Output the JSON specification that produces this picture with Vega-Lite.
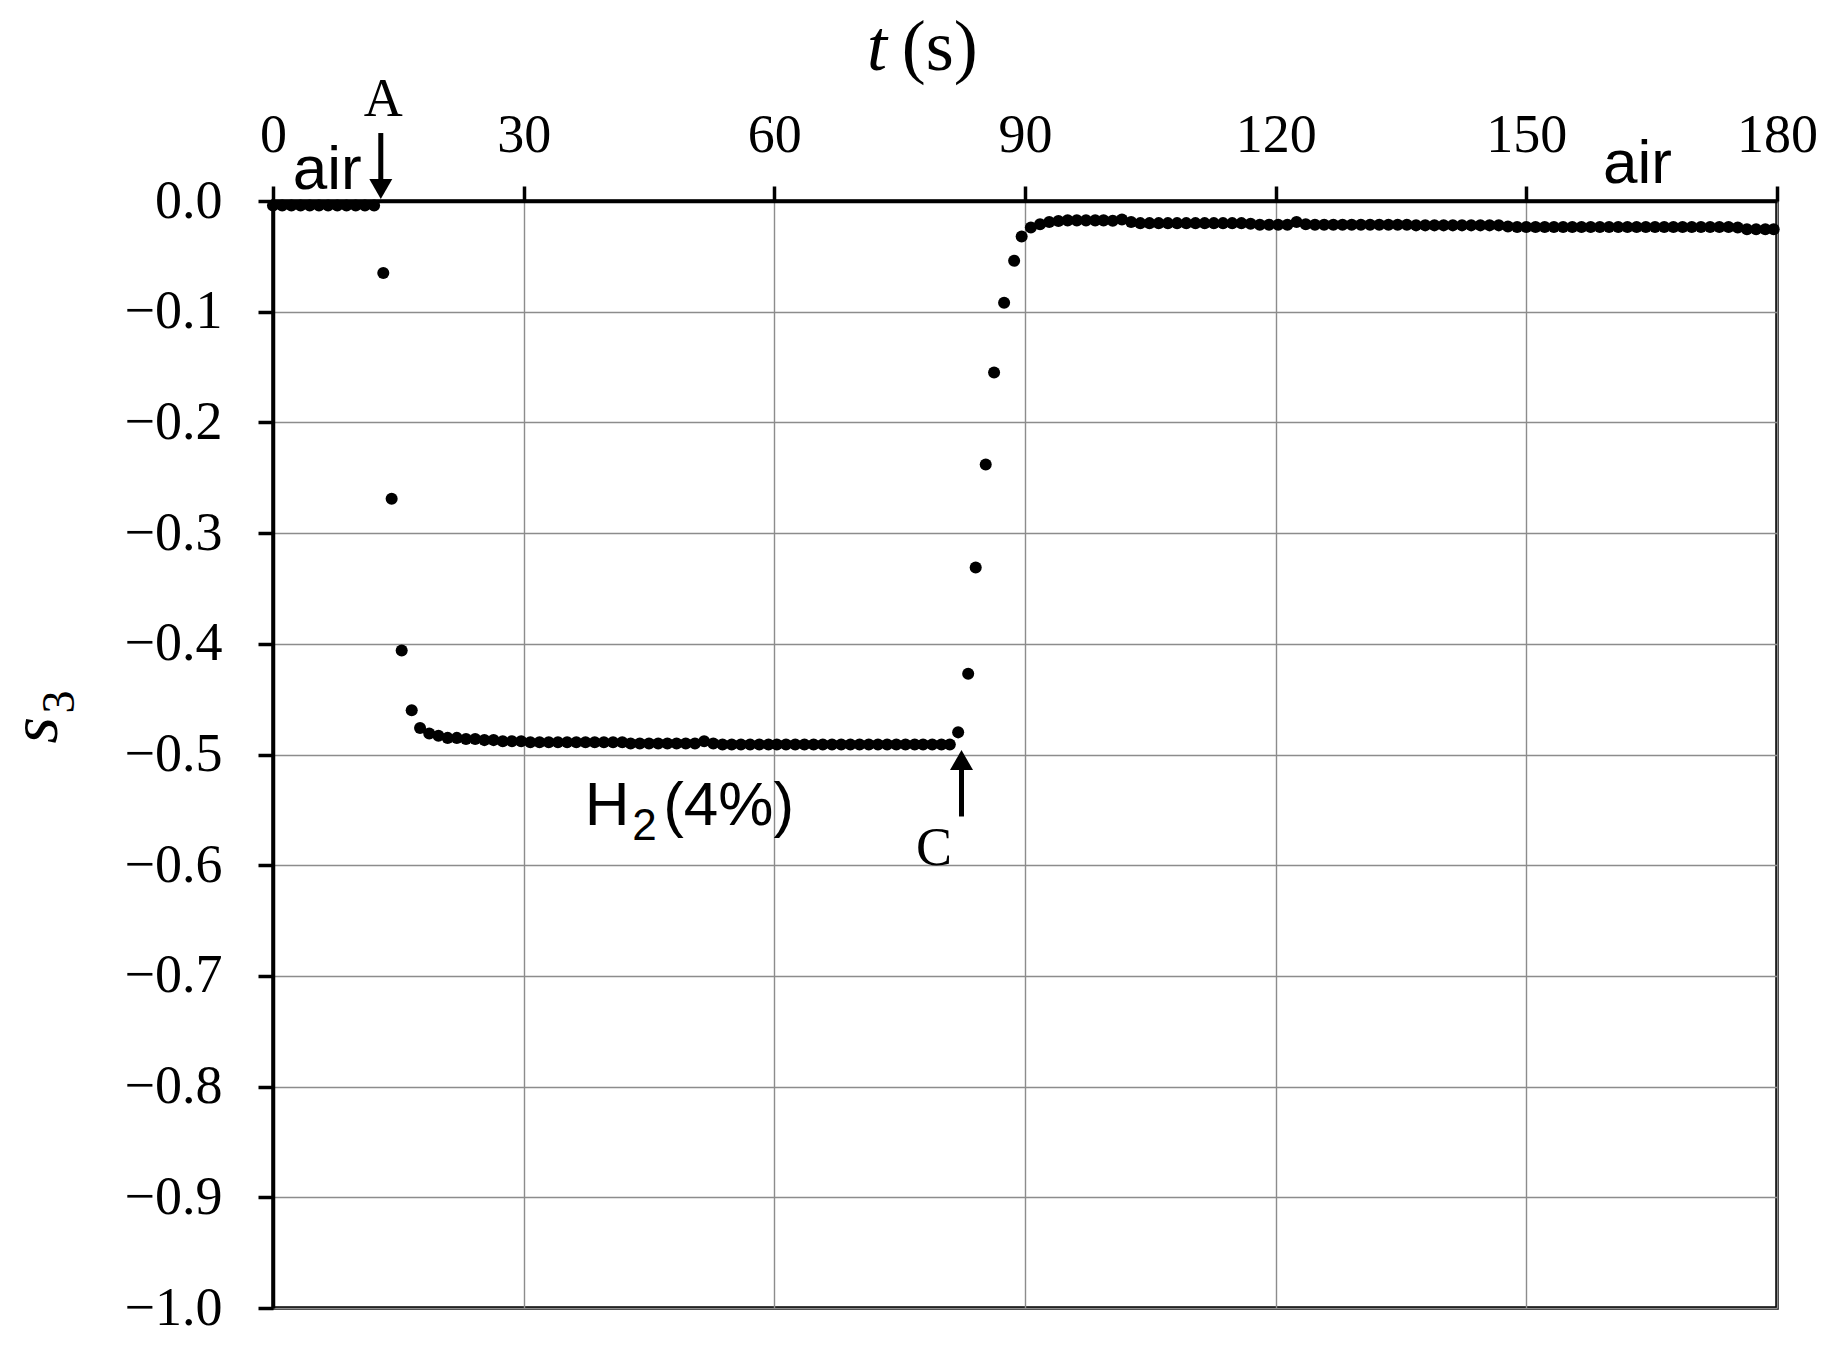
{
  "$schema": "https://vega.github.io/schema/vega-lite/v6.json",
  "width": 1504,
  "height": 1107,
  "autosize": {"type": "none"},
  "padding": {"left": 273, "top": 201, "right": 60, "bottom": 45},
  "background": "white",
  "config": {
    "view": {"stroke": "black", "strokeWidth": 3.5},
    "axis": {
      "domainColor": "black", "domainWidth": 3.5,
      "tickColor": "black", "tickWidth": 3.5, "tickSize": 15,
      "gridColor": "#8c8c8c", "gridWidth": 1.4,
      "labelFont": "Liberation Serif", "labelFontSize": 54, "labelColor": "black",
      "title": null
    }
  },
  "datasets": {
    "points": [
      {"t": 0.0, "s": -0.004}, {"t": 1.1, "s": -0.004}, {"t": 2.2, "s": -0.004}, {"t": 3.3, "s": -0.004},
      {"t": 4.4, "s": -0.004}, {"t": 5.5, "s": -0.004}, {"t": 6.6, "s": -0.004}, {"t": 7.7, "s": -0.004},
      {"t": 8.8, "s": -0.004}, {"t": 9.9, "s": -0.004}, {"t": 11.0, "s": -0.004}, {"t": 12.1, "s": -0.004},
      {"t": 13.2, "s": -0.065}, {"t": 14.2, "s": -0.269}, {"t": 15.4, "s": -0.406}, {"t": 16.6, "s": -0.46},
      {"t": 17.6, "s": -0.476}, {"t": 18.7, "s": -0.481}, {"t": 19.8, "s": -0.483}, {"t": 20.9, "s": -0.485},
      {"t": 22.0, "s": -0.485}, {"t": 23.1, "s": -0.486}, {"t": 24.2, "s": -0.486}, {"t": 25.3, "s": -0.487},
      {"t": 26.4, "s": -0.487}, {"t": 27.5, "s": -0.488}, {"t": 28.6, "s": -0.488}, {"t": 29.7, "s": -0.488},
      {"t": 30.8, "s": -0.489}, {"t": 31.9, "s": -0.489}, {"t": 33.0, "s": -0.489}, {"t": 34.1, "s": -0.489},
      {"t": 35.2, "s": -0.489}, {"t": 36.3, "s": -0.489}, {"t": 37.4, "s": -0.489}, {"t": 38.5, "s": -0.489},
      {"t": 39.6, "s": -0.489}, {"t": 40.7, "s": -0.489}, {"t": 41.8, "s": -0.489}, {"t": 42.8, "s": -0.49},
      {"t": 43.9, "s": -0.49}, {"t": 45.0, "s": -0.49}, {"t": 46.1, "s": -0.49}, {"t": 47.2, "s": -0.49},
      {"t": 48.3, "s": -0.49}, {"t": 49.4, "s": -0.49}, {"t": 50.5, "s": -0.49}, {"t": 51.6, "s": -0.488},
      {"t": 52.7, "s": -0.49}, {"t": 53.8, "s": -0.491}, {"t": 54.9, "s": -0.491}, {"t": 56.0, "s": -0.491},
      {"t": 57.1, "s": -0.491}, {"t": 58.2, "s": -0.491}, {"t": 59.3, "s": -0.491}, {"t": 60.3, "s": -0.491},
      {"t": 61.4, "s": -0.491}, {"t": 62.5, "s": -0.491}, {"t": 63.6, "s": -0.491}, {"t": 64.7, "s": -0.491},
      {"t": 65.8, "s": -0.491}, {"t": 66.9, "s": -0.491}, {"t": 68.0, "s": -0.491}, {"t": 69.1, "s": -0.491},
      {"t": 70.2, "s": -0.491}, {"t": 71.3, "s": -0.491}, {"t": 72.4, "s": -0.491}, {"t": 73.5, "s": -0.491},
      {"t": 74.6, "s": -0.491}, {"t": 75.7, "s": -0.491}, {"t": 76.8, "s": -0.491}, {"t": 77.8, "s": -0.491},
      {"t": 78.9, "s": -0.491}, {"t": 80.0, "s": -0.491}, {"t": 81.0, "s": -0.491},
      {"t": 82.0, "s": -0.48}, {"t": 83.2, "s": -0.427}, {"t": 84.1, "s": -0.331}, {"t": 85.3, "s": -0.238},
      {"t": 86.3, "s": -0.155}, {"t": 87.5, "s": -0.092}, {"t": 88.7, "s": -0.054}, {"t": 89.6, "s": -0.032},
      {"t": 90.7, "s": -0.024}, {"t": 91.8, "s": -0.021}, {"t": 92.9, "s": -0.019}, {"t": 94.0, "s": -0.018},
      {"t": 95.1, "s": -0.0175}, {"t": 96.2, "s": -0.0175}, {"t": 97.3, "s": -0.0175}, {"t": 98.4, "s": -0.0175},
      {"t": 99.4, "s": -0.0175}, {"t": 100.5, "s": -0.0178}, {"t": 101.6, "s": -0.0168}, {"t": 102.7, "s": -0.019},
      {"t": 103.8, "s": -0.02}, {"t": 104.9, "s": -0.02}, {"t": 106.0, "s": -0.02}, {"t": 107.1, "s": -0.02},
      {"t": 108.2, "s": -0.02}, {"t": 109.3, "s": -0.02}, {"t": 110.4, "s": -0.02}, {"t": 111.5, "s": -0.02},
      {"t": 112.6, "s": -0.02}, {"t": 113.7, "s": -0.02}, {"t": 114.8, "s": -0.02}, {"t": 115.9, "s": -0.02},
      {"t": 117.0, "s": -0.0205}, {"t": 118.1, "s": -0.0215}, {"t": 119.2, "s": -0.0215}, {"t": 120.3, "s": -0.0215},
      {"t": 121.4, "s": -0.0215}, {"t": 122.5, "s": -0.019}, {"t": 123.6, "s": -0.021}, {"t": 124.7, "s": -0.0215},
      {"t": 125.8, "s": -0.0215}, {"t": 126.9, "s": -0.0215}, {"t": 128.0, "s": -0.0215}, {"t": 129.1, "s": -0.0215},
      {"t": 130.2, "s": -0.0215}, {"t": 131.3, "s": -0.0215}, {"t": 132.4, "s": -0.0215}, {"t": 133.5, "s": -0.0215},
      {"t": 134.6, "s": -0.0215}, {"t": 135.7, "s": -0.0215}, {"t": 136.8, "s": -0.022}, {"t": 137.9, "s": -0.022},
      {"t": 139.0, "s": -0.022}, {"t": 140.1, "s": -0.022}, {"t": 141.2, "s": -0.022}, {"t": 142.3, "s": -0.022},
      {"t": 143.4, "s": -0.022}, {"t": 144.5, "s": -0.022}, {"t": 145.6, "s": -0.022}, {"t": 146.7, "s": -0.022},
      {"t": 147.8, "s": -0.023}, {"t": 148.9, "s": -0.0235}, {"t": 150.0, "s": -0.0235}, {"t": 151.1, "s": -0.0235},
      {"t": 152.2, "s": -0.0235}, {"t": 153.3, "s": -0.0235}, {"t": 154.4, "s": -0.0235}, {"t": 155.5, "s": -0.0235},
      {"t": 156.6, "s": -0.0235}, {"t": 157.7, "s": -0.0235}, {"t": 158.8, "s": -0.0235}, {"t": 159.9, "s": -0.0235},
      {"t": 161.0, "s": -0.0235}, {"t": 162.1, "s": -0.0235}, {"t": 163.2, "s": -0.0235}, {"t": 164.3, "s": -0.0235},
      {"t": 165.4, "s": -0.0235}, {"t": 166.5, "s": -0.0235}, {"t": 167.6, "s": -0.0235}, {"t": 168.7, "s": -0.0235},
      {"t": 169.8, "s": -0.0235}, {"t": 170.9, "s": -0.0235}, {"t": 172.0, "s": -0.0235}, {"t": 173.1, "s": -0.0235},
      {"t": 174.2, "s": -0.0235}, {"t": 175.3, "s": -0.024}, {"t": 176.4, "s": -0.0255}, {"t": 177.5, "s": -0.0255},
      {"t": 178.6, "s": -0.0255}, {"t": 179.6, "s": -0.0255}
    ]
  },
  "encoding": {
    "x": {
      "field": "t", "type": "quantitative",
      "scale": {"domain": [0, 180], "nice": false, "zero": false},
      "axis": {"orient": "top", "values": [0, 30, 60, 90, 120, 150, 180], "format": "d",
               "labelPadding": 35, "labelBaseline": "alphabetic", "labelFlush": false, "labelOverlap": false}
    },
    "y": {
      "field": "s", "type": "quantitative",
      "scale": {"domain": [-1, 0], "nice": false, "zero": false},
      "axis": {"orient": "left", "values": [-1, -0.9, -0.8, -0.7, -0.6, -0.5, -0.4, -0.3, -0.2, -0.1, 0],
               "format": ".1f", "labelPadding": 36, "labelFlush": false, "labelOverlap": false}
    }
  },
  "layer": [
    {
      "data": {"name": "points"},
      "mark": {"type": "point", "filled": true, "color": "black", "size": 145, "opacity": 1}
    },
    {
      "data": {"values": [{"t": 12.9, "s": 0.0614, "s2": 0.018}, {"t": 82.4, "s": -0.556, "s2": -0.512}]},
      "mark": {"type": "rule", "color": "black", "strokeWidth": 5},
      "encoding": {"y2": {"field": "s2"}}
    },
    {
      "data": {"values": [{"t": 12.9, "s": 0.0108}]},
      "mark": {"type": "point", "shape": "triangle-down", "filled": true, "color": "black", "size": 529, "opacity": 1}
    },
    {
      "data": {"values": [{"t": 82.4, "s": -0.505}]},
      "mark": {"type": "point", "shape": "triangle-up", "filled": true, "color": "black", "size": 529, "opacity": 1}
    },
    {
      "data": {"values": [{"t": 13.2, "s": 0.0768, "label": "A"}, {"t": 79.1, "s": -0.6, "label": "C"}]},
      "mark": {"type": "text", "font": "Liberation Serif", "fontSize": 54, "color": "black", "align": "center", "baseline": "alphabetic"},
      "encoding": {"text": {"field": "label"}}
    },
    {
      "data": {"values": [{"t": 6.5, "s": 0.011, "label": "air"}, {"t": 163.3, "s": 0.016, "label": "air"}]},
      "mark": {"type": "text", "font": "Liberation Sans", "fontSize": 62, "color": "black", "align": "center", "baseline": "alphabetic"},
      "encoding": {"text": {"field": "label"}}
    },
    {
      "data": {"values": [{"t": 37.3, "s": -0.5637, "label": "H"}, {"t": 46.7, "s": -0.5637, "label": "(4%)"}]},
      "mark": {"type": "text", "font": "Liberation Sans", "fontSize": 62, "color": "black", "align": "left", "baseline": "alphabetic"},
      "encoding": {"text": {"field": "label"}}
    },
    {
      "data": {"values": [{"t": 43.0, "s": -0.577, "label": "2"}]},
      "mark": {"type": "text", "font": "Liberation Sans", "fontSize": 44, "color": "black", "align": "left", "baseline": "alphabetic"},
      "encoding": {"text": {"field": "label"}}
    },
    {
      "data": {"values": [{"t": 72.3, "s": 0.1183, "label": "t"}]},
      "mark": {"type": "text", "font": "Liberation Serif", "fontStyle": "italic", "fontSize": 72, "color": "black", "align": "center", "baseline": "alphabetic"},
      "encoding": {"text": {"field": "label"}}
    },
    {
      "data": {"values": [{"t": 79.8, "s": 0.1183, "label": "(s)"}]},
      "mark": {"type": "text", "font": "Liberation Serif", "fontSize": 72, "color": "black", "align": "center", "baseline": "alphabetic"},
      "encoding": {"text": {"field": "label"}}
    },
    {
      "data": {"values": [{"t": -25.8, "s": -0.478, "label": "s"}]},
      "mark": {"type": "text", "font": "Liberation Serif", "fontStyle": "italic", "fontSize": 68, "color": "black", "align": "center", "baseline": "alphabetic", "angle": 270},
      "encoding": {"text": {"field": "label"}}
    },
    {
      "data": {"values": [{"t": -23.8, "s": -0.4526, "label": "3"}]},
      "mark": {"type": "text", "font": "Liberation Serif", "fontSize": 46, "color": "black", "align": "center", "baseline": "alphabetic", "angle": 270},
      "encoding": {"text": {"field": "label"}}
    }
  ]
}
